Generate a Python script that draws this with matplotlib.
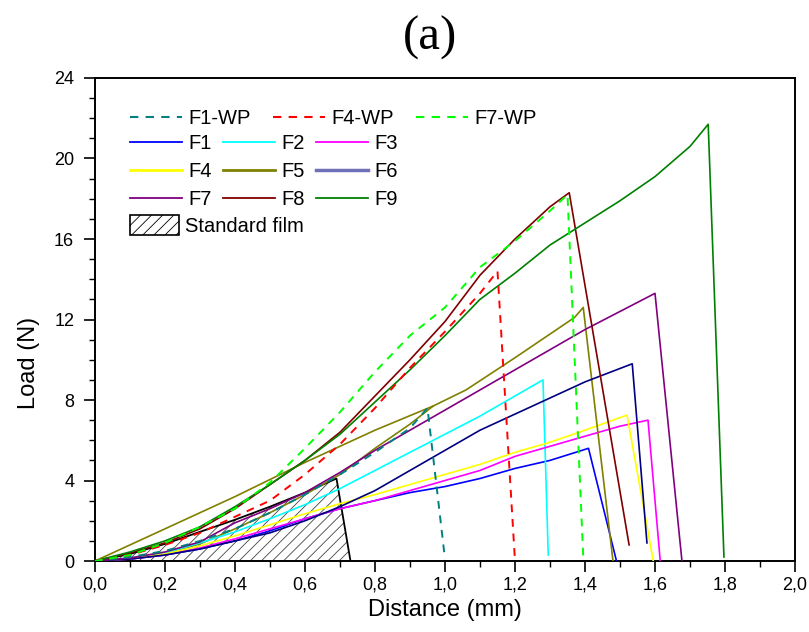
import matplotlib
matplotlib.use("Agg")
import matplotlib.pyplot as plt
from matplotlib.patches import Patch
from matplotlib.lines import Line2D
from matplotlib.ticker import MultipleLocator, FuncFormatter

plt.rcParams['font.family'] = ['Liberation Sans', 'DejaVu Sans']
plt.rcParams['hatch.linewidth'] = 0.6
plt.rcParams['hatch.color'] = '#444444'

# ---- data (Distance mm, Load N) ----
std_x = [0, 0.1, 0.2, 0.3, 0.4, 0.5, 0.6, 0.69, 0.73]
std_y = [0, 0.35, 0.85, 1.45, 2.05, 2.7, 3.4, 4.1, 0]

f1wp_x = [0, 0.1, 0.2, 0.3, 0.4, 0.5, 0.6, 0.7, 0.8, 0.9, 0.95, 1.0]
f1wp_y = [0, 0.2, 0.5, 1.0, 1.6, 2.4, 3.3, 4.3, 5.4, 6.6, 7.6, 0.1]

f4wp_x = [0, 0.1, 0.2, 0.3, 0.4, 0.5, 0.6, 0.7, 0.8, 0.9, 1.0, 1.1, 1.15, 1.2]
f4wp_y = [0, 0.3, 0.8, 1.4, 2.2, 3.0, 4.3, 5.8, 7.6, 9.6, 11.4, 13.3, 14.4, 0]

f7wp_x = [0, 0.1, 0.2, 0.3, 0.4, 0.5, 0.6, 0.7, 0.8, 0.9, 1.0, 1.1, 1.2, 1.3, 1.35, 1.395]
f7wp_y = [0, 0.3, 0.9, 1.7, 2.6, 3.9, 5.6, 7.4, 9.4, 11.2, 12.6, 14.6, 15.9, 17.4, 18.2, 0.2]

f1_x = [0, 0.1, 0.2, 0.3, 0.4, 0.5, 0.6, 0.7, 0.8, 0.9, 1.0, 1.1, 1.2, 1.3, 1.41, 1.49]
f1_y = [0, 0.1, 0.3, 0.6, 1.0, 1.5, 2.1, 2.6, 3.0, 3.4, 3.7, 4.1, 4.6, 5.0, 5.6, 0]

f2_x = [0, 0.1, 0.2, 0.3, 0.4, 0.5, 0.6, 0.7, 0.8, 0.9, 1.0, 1.1, 1.2, 1.28, 1.295]
f2_y = [0, 0.15, 0.4, 0.9, 1.45, 2.1, 2.8, 3.6, 4.5, 5.4, 6.3, 7.2, 8.2, 9.0, 0.3]

f3_x = [0, 0.1, 0.2, 0.3, 0.4, 0.5, 0.6, 0.7, 0.8, 0.9, 1.0, 1.1, 1.2, 1.3, 1.4, 1.5, 1.58, 1.615]
f3_y = [0, 0.1, 0.3, 0.65, 1.1, 1.6, 2.1, 2.6, 3.0, 3.5, 4.0, 4.5, 5.2, 5.7, 6.2, 6.7, 7.0, 0]

f4_x = [0, 0.1, 0.2, 0.3, 0.4, 0.5, 0.6, 0.7, 0.8, 0.9, 1.0, 1.1, 1.2, 1.3, 1.4, 1.52, 1.595]
f4_y = [0, 0.12, 0.35, 0.75, 1.25, 1.8, 2.35, 2.85, 3.3, 3.8, 4.3, 4.8, 5.4, 5.9, 6.5, 7.25, 0]

f5_x = [0, 0.2, 0.4, 0.6, 0.8, 0.966, 1.06, 1.2, 1.37, 1.395, 1.48]
f5_y = [0, 1.6, 3.2, 4.9, 6.5, 7.7, 8.5, 10.1, 12.1, 12.6, 0]

f5b_x = [0, 0.1, 0.2, 0.3, 0.4, 0.5, 0.6, 0.7, 0.8, 0.9, 0.966]
f5b_y = [0, 0.1, 0.35, 0.85, 1.6, 2.4, 3.3, 4.3, 5.6, 6.8, 7.7]

f6_x = [0, 0.1, 0.2, 0.3, 0.4, 0.5, 0.6, 0.7, 0.8, 0.9, 1.0, 1.1, 1.2, 1.3, 1.4, 1.535, 1.577]
f6_y = [0, 0.1, 0.3, 0.6, 1.0, 1.4, 2.0, 2.7, 3.5, 4.5, 5.5, 6.5, 7.3, 8.1, 8.9, 9.8, 0.9]

f7_x = [0, 0.1, 0.2, 0.3, 0.4, 0.5, 0.6, 0.7, 0.8, 0.9, 1.0, 1.1, 1.2, 1.3, 1.4, 1.5, 1.6, 1.677]
f7_y = [0, 0.15, 0.45, 0.95, 1.9, 2.6, 3.4, 4.4, 5.5, 6.5, 7.5, 8.5, 9.5, 10.5, 11.5, 12.4, 13.3, 0]

f8_x = [0, 0.1, 0.2, 0.3, 0.4, 0.5, 0.6, 0.7, 0.8, 0.9, 1.0, 1.1, 1.2, 1.3, 1.355, 1.526]
f8_y = [0, 0.4, 0.9, 1.6, 2.6, 3.8, 5.0, 6.4, 8.2, 10.0, 11.9, 14.2, 16.0, 17.6, 18.3, 0.8]

f9_x = [0, 0.1, 0.2, 0.3, 0.4, 0.5, 0.6, 0.7, 0.8, 0.9, 1.0, 1.1, 1.2, 1.3, 1.4, 1.5, 1.6, 1.7, 1.752, 1.797]
f9_y = [0, 0.45, 1.0, 1.7, 2.7, 3.8, 5.0, 6.3, 7.9, 9.5, 11.2, 13.0, 14.3, 15.7, 16.8, 17.9, 19.1, 20.6, 21.7, 0.2]

x_ticks = [0.0, 0.2, 0.4, 0.6, 0.8, 1.0, 1.2, 1.4, 1.6, 1.8, 2.0]
y_ticks = [0, 4, 8, 12, 16, 20, 24]

# ---- figure ----
fig = plt.figure(figsize=(8.09, 6.32), dpi=100)
ax = fig.add_axes([0.1174, 0.1123, 0.8653, 0.7643])

# standard film (hatched)
ax.fill(std_x, std_y, facecolor='white', edgecolor='#444444', hatch='///', linewidth=0, zorder=1)
ax.plot(std_x, std_y, color='black', lw=1.3, zorder=2)

lw = 1.2
ax.plot(f5b_x, f5b_y, color='#808000', lw=lw, zorder=3)
series = [
    (f1_x, f1_y, '#0000ff'),
    (f2_x, f2_y, '#00ffff'),
    (f3_x, f3_y, '#ff00ff'),
    (f4_x, f4_y, '#ffff00'),
    (f5_x, f5_y, '#808000'),
    (f6_x, f6_y, '#000080'),
    (f7_x, f7_y, '#800080'),
    (f8_x, f8_y, '#800000'),
    (f9_x, f9_y, '#008000'),
]
for x, y, c in series:
    ax.plot(x, y, color=c, lw=lw, zorder=3)

dash = (0, (4, 3.5))
ax.plot(f1wp_x, f1wp_y, color='#008080', lw=1.4, ls=dash, zorder=4)
ax.plot(f4wp_x, f4wp_y, color='#ff0000', lw=1.4, ls=dash, zorder=4)
ax.plot(f7wp_x, f7wp_y, color='#00ff00', lw=1.4, ls=dash, zorder=4)

ax.set_xlim(0, 2.0)
ax.set_ylim(0, 24)
ax.set_xticks(x_ticks)
ax.set_yticks(y_ticks)
ax.xaxis.set_minor_locator(MultipleLocator(0.1))
ax.yaxis.set_minor_locator(MultipleLocator(1))
ax.xaxis.set_major_formatter(FuncFormatter(lambda v, p: f"{v:.1f}".replace('.', ',')))
ax.tick_params(axis='both', which='major', direction='out', length=8, width=1.2, labelsize=13)
ax.tick_params(axis='x', which='major', pad=3)
ax.tick_params(axis='y', which='major', pad=7)
ax.tick_params(axis='both', which='minor', direction='out', length=4.5, width=1.0)
ax.tick_params(top=False, right=False, which='both')
for s in ax.spines.values():
    s.set_linewidth(1.4)

ax.set_xlabel('Distance (mm)', fontsize=17, labelpad=4)
ax.set_ylabel('Load (N)', fontsize=17)
ax.yaxis.set_label_coords(-0.078, 0.41)
fig.text(0.532, 0.94, '(a)', fontsize=35, family=['Liberation Serif', 'DejaVu Serif'],
         ha='center', va='center')

# legends
fs = 14.5
h_wp = [Line2D([], [], color='#008080', lw=1.5, ls=dash),
        Line2D([], [], color='#ff0000', lw=1.5, ls=dash),
        Line2D([], [], color='#00ff00', lw=1.5, ls=dash)]
leg1 = ax.legend(h_wp, ['F1-WP', 'F4-WP', 'F7-WP'], ncol=3, loc='upper left',
                 bbox_to_anchor=(0.05, 0.936), frameon=False, fontsize=fs,
                 handlelength=2.6, handletextpad=0.3, columnspacing=1.1,
                 borderpad=0, borderaxespad=0)
ax.add_artist(leg1)

def L(c, w=1.3):
    return Line2D([], [], color=c, lw=w)

handles = [L('#0000ff'), L('#ffff00', 2), L('#800080'),
           L('#00ffff'), L('#808000', 2), L('#800000'),
           L('#ff00ff'), L('#7070b8', 2.5), L('#008000')]
labels = ['F1', 'F4', 'F7', 'F2', 'F5', 'F8', 'F3', 'F6', 'F9']
leg2 = ax.legend(handles, labels, ncol=3, loc='upper left', bbox_to_anchor=(0.05, 0.884),
                 frameon=False, fontsize=fs, handlelength=2.6, handletextpad=0.3,
                 columnspacing=0.55, borderpad=0, borderaxespad=0, labelspacing=0.44)
ax.add_artist(leg2)

std_patch = Patch(facecolor='white', edgecolor='black', hatch='///', lw=1.2)
ax.legend([std_patch], ['Standard film'], loc='upper left', bbox_to_anchor=(0.05, 0.716),
          frameon=False, fontsize=fs, handlelength=2.45, handleheight=1.15,
          handletextpad=0.3, borderpad=0, borderaxespad=0)

fig.savefig('out.png', dpi=100)
